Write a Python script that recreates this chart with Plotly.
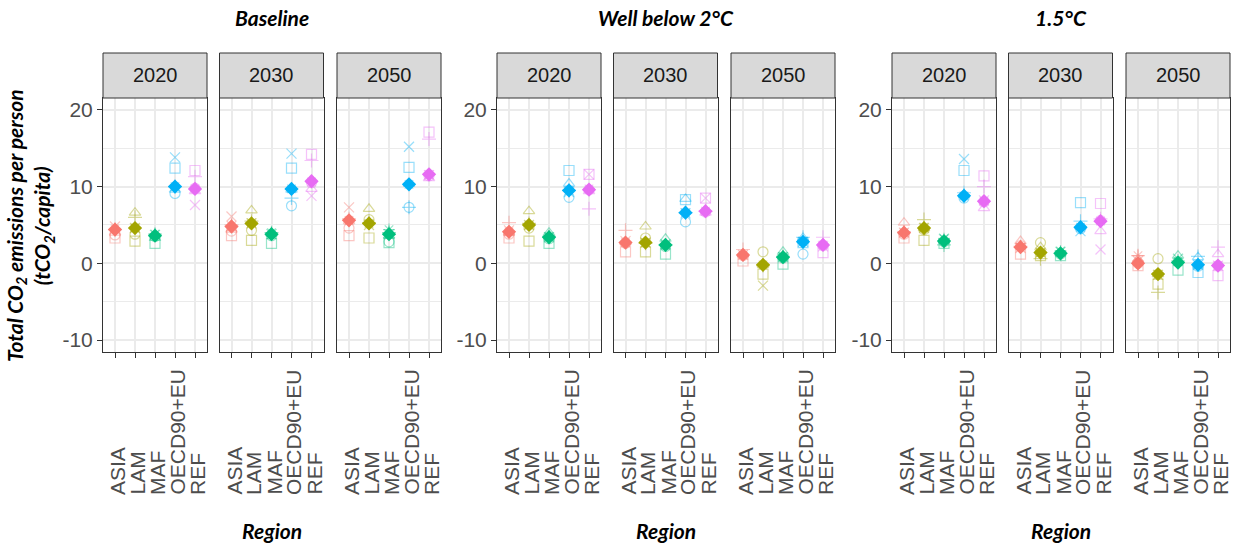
import plotly.graph_objects as go

# ---- data -------------------------------------------------------------
regions = ["ASIA", "LAM", "MAF", "OECD90+EU", "REF"]
scenarios = ["Baseline", "Well below 2°C", "1.5°C"]
years = ["2020", "2030", "2050"]
region_colors = ["#F8766D", "#A3A500", "#00BF7D", "#00B0F6", "#E76BF3"]

# One row per panel (scenario x year, in reading order), one value per region
model_circle = [
    [3.7, 3.8, 3.5, 9.1, 9.8],
    [4.2, 4.3, 3.6, 7.5, 10.5],
    [4.6, 5.7, 2.8, 7.3, 11.4],
    [3.8, 4.6, 3.2, 8.6, 9.6],
    [2.6, 3.3, 2.2, 5.4, 6.7],
    [1.0, 1.5, 0.7, 1.2, 2.3],
    [3.8, 4.4, 2.8, 8.5, 8.0],
    [2.3, 2.7, 1.2, 4.5, 5.6],
    [0.0, 0.6, 0.2, -0.4, -0.3],
]
model_triangle = [
    [4.0, 6.6, 3.3, 9.6, 9.4],
    [4.4, 6.9, 3.9, 9.6, 9.7],
    [5.5, 7.1, 3.6, 10.4, 11.1],
    [4.0, 6.8, 4.0, 10.4, 9.4],
    [2.8, 4.8, 3.2, 8.4, 6.6],
    [1.2, -0.2, 1.5, 3.3, 2.6],
    [5.3, 4.6, 3.0, 9.0, 7.2],
    [2.9, 2.1, 1.4, 4.8, 4.2],
    [0.5, -1.4, 1.0, 0.8, 1.2],
]
model_plus = [
    [4.4, 6.0, 3.8, 10.0, 11.3],
    [5.0, 5.5, 4.0, 8.5, 13.4],
    [5.8, 5.3, 4.0, 7.3, 16.2],
    [5.3, 5.2, 3.5, 9.5, 7.1],
    [4.3, 2.6, 2.4, 6.6, 6.8],
    [1.8, -0.3, 0.9, 3.4, 3.4],
    [4.1, 5.7, 2.4, 9.2, 10.0],
    [2.2, 0.6, 1.3, 5.5, 5.8],
    [1.0, -3.8, 0.3, 0.9, 2.1],
]
model_cross = [
    [4.8, 4.6, 3.7, 13.8, 7.6],
    [6.1, 5.2, 3.8, 14.3, 8.8],
    [7.3, 5.0, 3.8, 15.2, 11.5],
    [4.3, 5.0, 3.4, 9.3, 11.6],
    [2.9, 2.7, 2.5, 6.5, 8.5],
    [1.1, -2.9, 0.8, 2.8, 2.2],
    [4.0, 4.6, 3.2, 13.6, 8.2],
    [2.0, 1.4, 1.5, 4.2, 1.8],
    [0.3, -1.5, 0.6, -0.2, -0.3],
]
model_square = [
    [3.3, 2.9, 2.6, 12.4, 12.1],
    [3.6, 3.0, 2.6, 12.4, 14.2],
    [3.6, 3.3, 2.7, 12.5, 17.1],
    [3.3, 2.9, 2.6, 12.1, 11.6],
    [1.5, 1.5, 1.2, 8.3, 8.5],
    [0.3, -1.4, -0.1, 2.7, 1.4],
    [3.3, 3.0, 2.6, 12.1, 11.4],
    [1.2, 1.0, 1.0, 7.9, 7.8],
    [-0.3, -2.7, -0.9, -1.2, -1.6],
]
model_star = [
    [4.5, 4.6, 3.8, 10.0, 9.7],
    [4.9, 5.3, 4.0, 9.7, 10.6],
    [5.6, 5.2, 4.4, 10.3, 11.6],
    [4.1, 5.0, 3.5, 9.5, 9.7],
    [2.7, 2.7, 2.4, 6.6, 6.8],
    [1.1, -0.2, 0.9, 2.9, 2.4],
    [4.0, 4.7, 3.2, 8.8, 8.1],
    [2.1, 1.4, 1.6, 4.7, 5.5],
    [1.0, -1.4, 0.2, -0.2, -0.3],
]
mean_values = [
    [4.4, 4.6, 3.6, 10.0, 9.7],
    [4.8, 5.2, 3.8, 9.7, 10.7],
    [5.6, 5.2, 3.8, 10.3, 11.6],
    [4.1, 5.0, 3.4, 9.5, 9.6],
    [2.7, 2.7, 2.4, 6.6, 6.8],
    [1.1, -0.2, 0.8, 2.8, 2.4],
    [4.0, 4.6, 2.9, 8.8, 8.1],
    [2.1, 1.4, 1.3, 4.7, 5.5],
    [0.0, -1.4, 0.1, -0.2, -0.3],
]
y_ticks = [-10, 0, 10, 20]
y_tick_labels = ["-10", "0", "10", "20"]

model_series = [
    ("circle-open", model_circle),
    ("triangle-up-open", model_triangle),
    ("cross-thin-open", model_plus),
    ("x-thin-open", model_cross),
    ("square-open", model_square),
    ("asterisk-open", model_star),
]

# ---- geometry (pixels) -------------------------------------------------
W, H = 1233, 546
group_offsets = [0, 394, 789]
panel_lefts = [103, 219.5, 337]
panel_w = 104
plot_top, plot_bottom, strip_top = 98, 352, 53

TICK_FONT = "Liberation Sans, Arial, sans-serif"
TITLE_FONT = "Lato, Liberation Sans, sans-serif"


def px_x(p):
    return p / W


def px_y(p):
    return 1 - p / H


fig = go.Figure()
layout = dict(
    width=W, height=H,
    margin=dict(l=0, r=0, t=0, b=0),
    paper_bgcolor="white", plot_bgcolor="white",
    showlegend=False,
)
shapes, annotations = [], []
xs = list(range(1, len(regions) + 1))

panel = 0
for g, scen in enumerate(scenarios):
    for k, yr in enumerate(years):
        left = group_offsets[g] + panel_lefts[k]
        right = left + panel_w
        n = panel + 1
        xa = "x" if n == 1 else f"x{n}"
        ya = "y" if n == 1 else f"y{n}"
        xkey = "xaxis" if n == 1 else f"xaxis{n}"
        ykey = "yaxis" if n == 1 else f"yaxis{n}"

        layout[xkey] = dict(
            domain=[px_x(left), px_x(right)], anchor=ya, range=[0.4, 5.6],
            tickvals=xs, showticklabels=False, ticks="outside", ticklen=5,
            tickcolor="#333333", tickwidth=1,
            showgrid=True, gridcolor="#EBEBEB", gridwidth=1.5, zeroline=False,
            showline=True, mirror=True, linecolor="#333333", linewidth=1,
        )
        first = k == 0
        layout[ykey] = dict(
            domain=[px_y(plot_bottom), px_y(plot_top)], anchor=xa,
            range=[-11.56, 21.55], tickvals=y_ticks, ticktext=y_tick_labels,
            showticklabels=first, ticks="outside" if first else "",
            ticklen=5, tickcolor="#333333", tickwidth=1,
            tickfont=dict(family=TICK_FONT, size=21, color="#4D4D4D"),
            showgrid=True, gridcolor="#EBEBEB", gridwidth=1.5, zeroline=False,
            minor=dict(tickvals=[-5, 5, 15], showgrid=True,
                       gridcolor="#EBEBEB", gridwidth=1),
            showline=True, mirror=True, linecolor="#333333", linewidth=1,
        )

        for symbol, values in model_series:
            fig.add_trace(go.Scatter(
                x=xs, y=values[panel], mode="markers", xaxis=xa, yaxis=ya,
                opacity=0.4, hoverinfo="skip",
                marker=dict(symbol=symbol, size=10, color=region_colors,
                            line=dict(width=1.2, color=region_colors)),
            ))
        fig.add_trace(go.Scatter(
            x=xs, y=mean_values[panel], mode="markers", xaxis=xa, yaxis=ya,
            marker=dict(symbol="diamond", size=11, color=region_colors,
                        line=dict(width=0)),
        ))

        # facet strip
        shapes.append(dict(
            type="rect", xref="paper", yref="paper",
            x0=px_x(left), x1=px_x(right), y0=px_y(plot_top), y1=px_y(strip_top),
            fillcolor="#D9D9D9", line=dict(color="#333333", width=1), layer="above",
        ))
        annotations.append(dict(
            xref="paper", yref="paper", x=px_x((left + right) / 2),
            y=px_y((plot_top + strip_top) / 2), text=yr, showarrow=False,
            xanchor="center", yanchor="middle",
            font=dict(family=TICK_FONT, size=20, color="#1A1A1A"),
        ))

        # rotated region labels under each panel
        for i, reg in enumerate(regions):
            annotations.append(dict(
                xref=xa, yref="paper", x=xs[i] + 0.1, y=px_y(497), text=reg,
                textangle=-90, showarrow=False, xanchor="center", yanchor="bottom",
                font=dict(family=TICK_FONT, size=21, color="#4D4D4D"),
            ))
        panel += 1

    center = group_offsets[g] + (panel_lefts[0] + panel_lefts[2] + panel_w) / 2
    annotations.append(dict(
        xref="paper", yref="paper", x=px_x(center), y=px_y(17),
        text=f"<b><i>{scen}</i></b>", showarrow=False,
        xanchor="center", yanchor="middle",
        font=dict(family=TITLE_FONT, size=21, color="black"),
    ))
    annotations.append(dict(
        xref="paper", yref="paper", x=px_x(center), y=px_y(530),
        text="<b><i>Region</i></b>", showarrow=False,
        xanchor="center", yanchor="middle",
        font=dict(family=TITLE_FONT, size=21, color="black"),
    ))

annotations.append(dict(
    xref="paper", yref="paper", x=px_x(30), y=px_y(226),
    text="<b><i>Total CO<sub>2</sub> emissions per person<br>(tCO<sub>2</sub>/capita)</i></b>",
    textangle=-90, showarrow=False, xanchor="center", yanchor="middle",
    font=dict(family=TITLE_FONT, size=21, color="black"),
))

layout["shapes"] = shapes
layout["annotations"] = annotations
fig.update_layout(**layout)

fig.write_html("out.html")
